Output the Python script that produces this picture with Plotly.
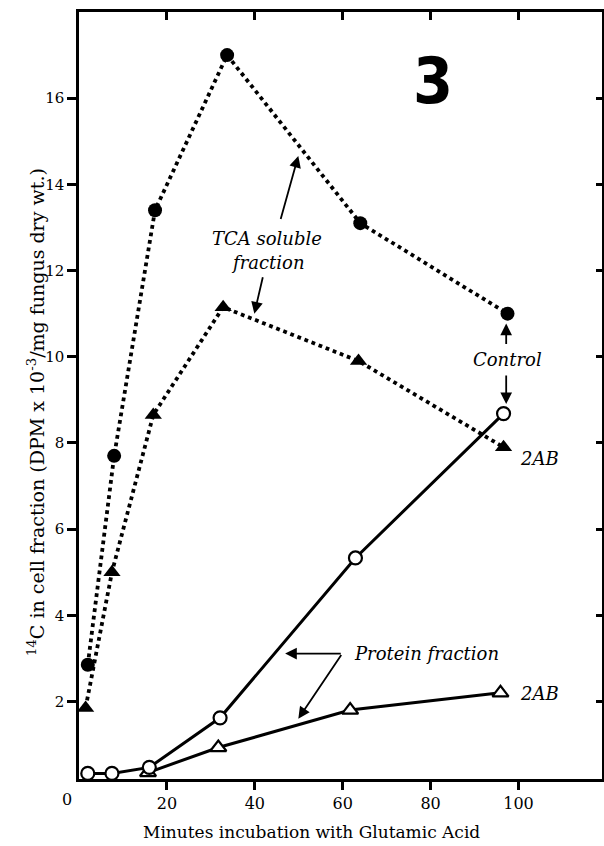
import plotly.graph_objects as go

# ---- data ----
t_tca_ctrl = [2, 8, 17.3, 33.7, 64, 97.5]
v_tca_ctrl = [2.85, 7.7, 13.4, 17.0, 13.1, 11.0]

t_tca_2ab = [1.5, 7.5, 16.9, 32.8, 63.6, 96.6]
v_tca_2ab = [1.85, 5.0, 8.65, 11.15, 9.9, 7.9]

t_prot_ctrl = [2, 7.5, 16, 32.1, 62.9, 96.6]
v_prot_ctrl = [0.33, 0.33, 0.47, 1.62, 5.33, 8.68]

t_prot_2ab = [15.7, 31.7, 61.7, 95.9]
v_prot_2ab = [0.35, 0.93, 1.8, 2.2]

x_ticks = [20, 40, 60, 80, 100]
y_ticks = [2, 4, 6, 8, 10, 12, 14, 16]

SERIF = "DejaVu Serif, Liberation Serif, serif"

fig = go.Figure()

fig.add_trace(go.Scatter(
    x=t_prot_2ab, y=v_prot_2ab, mode="lines+markers",
    line=dict(color="black", width=3),
    marker=dict(symbol="triangle-up", size=14, color="white",
                line=dict(color="black", width=2.2)),
    showlegend=False, cliponaxis=False))
fig.add_trace(go.Scatter(
    x=t_prot_ctrl, y=v_prot_ctrl, mode="lines+markers",
    line=dict(color="black", width=3),
    marker=dict(symbol="circle", size=13, color="white",
                line=dict(color="black", width=2.2)),
    showlegend=False, cliponaxis=False))
fig.add_trace(go.Scatter(
    x=t_tca_2ab, y=v_tca_2ab, mode="lines+markers",
    line=dict(color="black", width=3.8, dash="dot"),
    marker=dict(symbol="triangle-up", size=15, color="black"),
    showlegend=False, cliponaxis=False))
fig.add_trace(go.Scatter(
    x=t_tca_ctrl, y=v_tca_ctrl, mode="lines+markers",
    line=dict(color="black", width=3.8, dash="dot"),
    marker=dict(symbol="circle", size=14, color="black"),
    showlegend=False, cliponaxis=False))
# invisible trace to carry the mirrored top/right axes
fig.add_trace(go.Scatter(x=[None], y=[None], xaxis="x2", yaxis="y2",
                         showlegend=False, hoverinfo="skip"))

XR = [0, 119]
YR = [0.2, 18]

fig.update_layout(
    width=604, height=846,
    margin=dict(l=79, r=2, t=12, b=67),
    paper_bgcolor="white", plot_bgcolor="white",
    font=dict(family=SERIF, size=15, color="black"),
    xaxis=dict(range=XR, tickvals=x_ticks, ticks="outside", ticklen=8,
               tickwidth=2.5, tickcolor="black", showline=True,
               linecolor="black", linewidth=2.5, showgrid=False,
               zeroline=False, tickfont=dict(family=SERIF, size=16)),
    yaxis=dict(range=YR, tickvals=y_ticks, ticks="outside", ticklen=9,
               tickwidth=2.5, tickcolor="black", showline=True,
               linecolor="black", linewidth=2.5, showgrid=False,
               zeroline=False, tickfont=dict(family=SERIF, size=15)),
    xaxis2=dict(range=XR, tickvals=x_ticks, ticks="inside", ticklen=8,
                tickwidth=2.5, tickcolor="black", showline=True,
                linecolor="black", linewidth=2.5, showgrid=False,
                zeroline=False, showticklabels=False, side="top",
                overlaying="x", anchor="y"),
    yaxis2=dict(range=YR, tickvals=y_ticks, ticks="inside", ticklen=6,
                tickwidth=2.5, tickcolor="black", showline=True,
                linecolor="black", linewidth=2.5, showgrid=False,
                zeroline=False, showticklabels=False, side="right",
                overlaying="y", anchor="x"),
)

ann_font = dict(family=SERIF, size=18, color="black")
anns = [
    dict(x=-0.023, y=-0.027, xref="paper", yref="paper", text="0",
         showarrow=False, xanchor="center", yanchor="middle",
         font=dict(family=SERIF, size=16)),
    dict(x=0.4436, y=-0.069, xref="paper", yref="paper",
         text="Minutes incubation with Glutamic Acid", showarrow=False,
         font=dict(family=SERIF, size=17), xanchor="center", yanchor="middle"),
    dict(x=-0.082, y=0.4785, xref="paper", yref="paper", textangle=-90,
         xanchor="center", yanchor="middle",
         text="<sup>14</sup>C in cell fraction (DPM x 10<sup>-3</sup>/mg fungus dry wt.)",
         showarrow=False, font=dict(family=SERIF, size=19)),
    dict(x=80.6, y=16.4, xref="x", yref="y", text="<b>3</b>", showarrow=False,
         font=dict(family="Liberation Sans Narrow, DejaVu Sans Condensed, sans-serif",
                   size=64)),
    dict(x=42.8, y=12.74, xref="x", yref="y", text="<i>TCA soluble</i>",
         showarrow=False, font=ann_font),
    dict(x=43.05, y=12.18, xref="x", yref="y", text="<i>fraction</i>",
         showarrow=False, font=ann_font),
    dict(x=97.5, y=9.93, xref="x", yref="y", text="<i>Control</i>",
         showarrow=False, font=ann_font),
    dict(x=99.8, y=7.63, xref="x", yref="y", text="<i>2AB</i>",
         showarrow=False, font=ann_font, xanchor="left"),
    dict(x=99.8, y=2.18, xref="x", yref="y", text="<i>2AB</i>",
         showarrow=False, font=ann_font, xanchor="left"),
    dict(x=62.2, y=3.11, xref="x", yref="y", text="<i>Protein fraction</i>",
         showarrow=False, font=ann_font, xanchor="left"),
]
# arrows: (head_x, head_y, tail_x, tail_y)
arrows = [
    (49.9, 14.66, 45.8, 13.16),
    (39.9, 11.0, 41.9, 11.88),
    (97.2, 10.77, 97.2, 10.26),
    (97.2, 8.9, 97.2, 9.6),
    (46.9, 3.11, 59.9, 3.11),
    (49.9, 1.6, 59.9, 3.11),
]
for hx, hy, tx, ty in arrows:
    anns.append(dict(x=hx, y=hy, ax=tx, ay=ty, xref="x", yref="y",
                     axref="x", ayref="y", text="", showarrow=True,
                     arrowhead=2, arrowsize=1.3, arrowwidth=1.8,
                     arrowcolor="black"))
fig.update_layout(annotations=anns)

fig.write_html("out.html",
               config={"displayModeBar": False},
               post_script="document.body.style.margin='0';"
                           "document.body.style.overflow='hidden';")
